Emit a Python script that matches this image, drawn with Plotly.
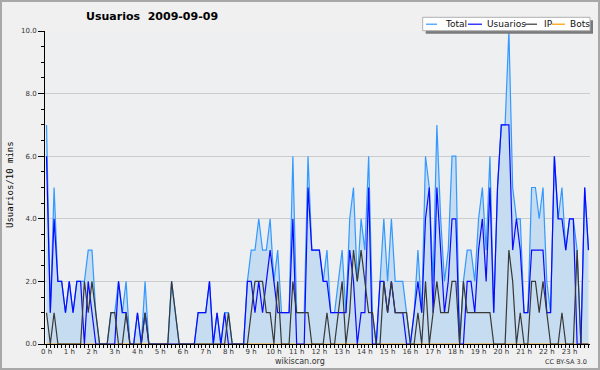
import plotly.graph_objects as go

# ---------------- data ----------------
hour_labels = [f"{h} h" for h in range(24)]
slots = list(range(144))  # 10-minute slots

total = [
    7, 1, 5, 2, 2, 1, 2, 1, 2, 2,
    2, 3, 3, 1, 0, 0, 0, 1, 1, 2,
    1, 2, 0, 0, 1, 0, 2, 0, 0, 0,
    0, 0, 0, 2, 1, 0, 0, 0, 0, 0,
    1, 1, 1, 2, 0, 1, 0, 1, 1, 0,
    0, 0, 0, 2, 3, 3, 4, 3, 3, 4,
    2, 3, 1, 1, 1, 6, 1, 1, 1, 6,
    3, 3, 3, 2, 3, 1, 1, 2, 3, 1,
    4, 5, 2, 4, 3, 6, 1, 0, 2, 4,
    2, 4, 2, 2, 2, 1, 0, 1, 3, 1,
    6, 5, 2, 7, 4, 2, 3, 6, 6, 0,
    2, 3, 3, 2, 4, 5, 3, 6, 1, 5,
    7, 7, 10, 5, 4, 4, 1, 1, 5, 5,
    4, 5, 2, 1, 6, 4, 5, 3, 4, 4,
    3, 0, 5, 3,
]

usuarios = [
    6, 1, 4, 2, 2, 1, 2, 1, 2, 2,
    0, 2, 1, 0, 0, 0, 0, 0, 0, 2,
    1, 1, 0, 0, 1, 0, 1, 0, 0, 0,
    0, 0, 0, 0, 0, 0, 0, 0, 0, 0,
    1, 1, 1, 2, 0, 1, 0, 1, 0, 0,
    0, 0, 0, 2, 2, 1, 2, 1, 2, 3,
    2, 1, 1, 1, 1, 4, 0, 0, 0, 5,
    3, 3, 3, 2, 2, 1, 1, 1, 1, 1,
    3, 2, 0, 1, 1, 5, 0, 0, 2, 2,
    1, 2, 1, 1, 1, 0, 0, 1, 2, 1,
    4, 5, 1, 5, 3, 1, 2, 4, 4, 0,
    0, 2, 2, 1, 3, 4, 2, 5, 1, 5,
    7, 7, 7, 3, 4, 3, 1, 1, 3, 3,
    3, 3, 1, 1, 6, 4, 4, 3, 4, 4,
    0, 0, 5, 3,
]

ip = [
    1, 0, 1, 0, 0, 0, 0, 0, 0, 0,
    2, 1, 2, 1, 0, 0, 0, 1, 1, 0,
    0, 1, 0, 0, 0, 0, 1, 0, 0, 0,
    0, 0, 0, 2, 1, 0, 0, 0, 0, 0,
    0, 0, 0, 0, 0, 0, 0, 0, 1, 0,
    0, 0, 0, 0, 1, 2, 2, 2, 1, 1,
    0, 2, 0, 0, 0, 2, 1, 1, 1, 1,
    0, 0, 0, 0, 1, 0, 0, 1, 2, 0,
    1, 3, 2, 3, 2, 1, 1, 0, 0, 2,
    1, 2, 1, 1, 1, 1, 0, 0, 1, 0,
    2, 0, 1, 2, 1, 1, 1, 2, 2, 0,
    2, 1, 1, 1, 1, 1, 1, 1, 0, 0,
    0, 0, 3, 2, 0, 1, 0, 0, 2, 2,
    1, 2, 1, 0, 0, 0, 1, 0, 0, 0,
    3, 0, 0, 0,
]

bots = [
    0, 0, 0, 0, 0, 0, 0, 0, 0, 0, 0, 0, 0, 0, 0, 0, 0, 0, 0, 0, 0, 0, 0, 0,
    0, 0, 0, 0, 0, 0, 0, 0, 0, 0, 0, 0, 0, 0, 0, 0, 0, 0, 0, 0, 0, 0, 0, 0,
    0, 0, 0, 0, 0, 0, 0, 0, 0, 0, 0, 0, 0, 0, 0, 0, 0, 0, 0, 0, 0, 0, 0, 0,
    0, 0, 0, 0, 0, 0, 0, 0, 0, 0, 0, 0, 0, 0, 0, 0, 0, 0, 0, 0, 0, 0, 0, 0,
    0, 0, 0, 0, 0, 0, 0, 0, 0, 0, 0, 0, 0, 0, 0, 0, 0, 0, 0, 0, 0, 0, 0, 0,
    0, 0, 0, 0, 0, 0, 0, 0, 0, 0, 0, 0, 0, 0, 0, 0, 0, 0, 0, 0, 0, 0, 0, 0,
]

series_names = ["Total", "Usuarios", "IP", "Bots"]
title_text = "Usuarios\u00a0\u00a02009-09-09"
y_title = "Usuarios/10 mins"

# ---------------- styling ----------------
W, H = 600, 370
L, R, T, B = 45, 10, 31, 26
PW, PH = W - L - R, H - T - B

C_TOTAL = "#3399ff"
C_FILL = "#c6dcf0"
C_USER = "#0a0aff"
C_IP = "#383838"
C_BOTS = "#ff9900"
FONT = "DejaVu Sans"


def px(x):
    return (x - L) / PW


def py(y):
    return (H - B - y) / PH


fig = go.Figure()
fig.add_trace(go.Scatter(x=slots, y=total, mode="lines", fill="tozeroy",
                         fillcolor=C_FILL, line=dict(color=C_TOTAL, width=1.2),
                         name=series_names[0]))
fig.add_trace(go.Scatter(x=slots, y=bots, mode="lines",
                         line=dict(color=C_BOTS, width=1.2), name=series_names[3]))
fig.add_trace(go.Scatter(x=slots, y=usuarios, mode="lines",
                         line=dict(color=C_USER, width=1.2), name=series_names[1]))
fig.add_trace(go.Scatter(x=slots, y=ip, mode="lines",
                         line=dict(color=C_IP, width=1.2), name=series_names[2]))

shapes = []
annotations = []

# outer border
shapes.append(dict(type="rect", xref="paper", yref="paper",
                   x0=px(1), x1=px(599), y0=py(369), y1=py(1),
                   line=dict(color="#a8a8a8", width=2), layer="above"))

# legend box with shadow
lx0, lx1, ly0, ly1 = 422.7, 590, 17.3, 30.7
shapes.append(dict(type="rect", xref="paper", yref="paper",
                   x0=px(lx0 + 3), x1=px(lx1 + 3), y0=py(ly1 + 3), y1=py(ly0 + 3),
                   fillcolor="#7a7a7a", line=dict(width=0), layer="above"))
shapes.append(dict(type="rect", xref="paper", yref="paper",
                   x0=px(lx0), x1=px(lx1), y0=py(ly1), y1=py(ly0),
                   fillcolor="white", line=dict(color="#b0b0b0", width=1), layer="above"))
leg_y = 24.2
legend_items = [
    (426, 437, 442.5, C_TOTAL, series_names[0]),
    (468, 482, 484.5, C_USER, series_names[1]),
    (525, 537, 541.5, C_IP, series_names[2]),
    (552, 565, 567.5, C_BOTS, series_names[3]),
]
for x0, x1, tx, col, name in legend_items:
    shapes.append(dict(type="line", xref="paper", yref="paper",
                       x0=px(x0), x1=px(x1), y0=py(leg_y), y1=py(leg_y),
                       line=dict(color=col, width=1.2), layer="above"))
    annotations.append(dict(xref="paper", yref="paper", x=px(tx), y=py(leg_y),
                            text=name, showarrow=False, xanchor="left", yanchor="middle",
                            font=dict(family=FONT, size=9, color="#111")))

# title
annotations.append(dict(xref="paper", yref="paper", x=px(84), y=py(16.5),
                        text=f"<b>{title_text}</b>", showarrow=False,
                        xanchor="left", yanchor="middle",
                        font=dict(family=FONT, size=11, color="#000")))
# y axis title
annotations.append(dict(xref="paper", yref="paper", x=px(10), y=py(185),
                        text=y_title, showarrow=False, textangle=-90,
                        xanchor="center", yanchor="middle",
                        font=dict(family="DejaVu Sans Mono", size=9, color="#000")))
# footer
annotations.append(dict(xref="paper", yref="paper", x=px(300), y=py(361.5),
                        text="wikiscan.org", showarrow=False,
                        xanchor="center", yanchor="middle",
                        font=dict(family=FONT, size=8, color="#333")))
annotations.append(dict(xref="paper", yref="paper", x=px(589), y=py(362),
                        text="CC BY-SA 3.0", showarrow=False,
                        xanchor="right", yanchor="middle",
                        font=dict(family=FONT, size=6.5, color="#333")))

fig.update_layout(
    width=W, height=H,
    margin=dict(l=L, r=R, t=T, b=B, pad=0),
    paper_bgcolor="#f0f0f0",
    plot_bgcolor="#eeeff1",
    showlegend=False,
    shapes=shapes,
    annotations=annotations,
    xaxis=dict(
        range=[-0.4, 143.4],
        tickmode="array",
        tickvals=[h * 6 for h in range(24)],
        ticktext=hour_labels,
        ticks="outside", ticklen=3, tickcolor="#000", tickwidth=1,
        ticklabelstandoff=-2,
        showline=True, linecolor="#000", linewidth=1,
        showgrid=False, zeroline=False,
        tickfont=dict(family=FONT, size=7, color="#333"),
        minor=dict(tickmode="linear", tick0=0, dtick=1, ticks="outside",
                   ticklen=3, tickcolor="#000", showgrid=False),
        fixedrange=True,
    ),
    yaxis=dict(
        range=[0, 10],
        tickmode="linear", tick0=0, dtick=2, tickformat=".1f",
        ticks="outside", ticklen=6, tickcolor="#000", tickwidth=1,
        showline=True, linecolor="#000", linewidth=1,
        showgrid=True, gridcolor="#cccccc", gridwidth=1,
        zeroline=False,
        tickfont=dict(family=FONT, size=7, color="#333"),
        minor=dict(tickmode="linear", tick0=0, dtick=0.5, ticks="outside",
                   ticklen=3, tickcolor="#000", showgrid=False),
        fixedrange=True,
    ),
)

fig.write_html(
    "out.html",
    config={"displayModeBar": False},
    post_script="document.body.style.margin='0';document.body.style.padding='0';",
)
